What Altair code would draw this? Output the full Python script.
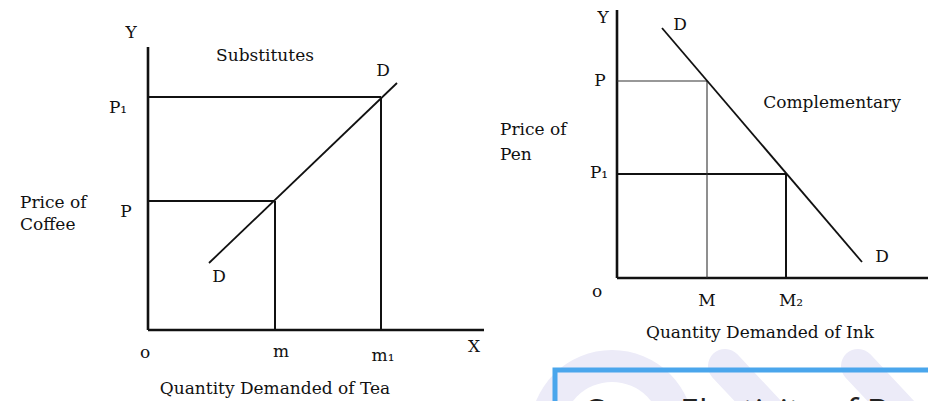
import altair as alt
import pandas as pd

# ---------------- data (diagram coordinates, canvas units) ----------------
# Left panel: Substitutes (price of coffee vs quantity of tea)
sub_origin = [148, 330]
sub_x_end = 484
sub_y_top = 47
sub_q = [275, 381]          # m, m1
sub_p = [201, 97]           # P, P1
sub_curve_x = [209, 397]
sub_curve_y = [263, 83]

# Right panel: Complementary (price of pen vs quantity of ink)
comp_origin = [617, 278]
comp_x_end = 930
comp_y_top = 10
comp_q = [707, 786]         # M, M2
comp_p = [81, 174]          # P, P1
comp_curve_x = [662, 862]
comp_curve_y = [28, 262]

# text labels
lab_text = ["Y", "Substitutes", "D", "P\u2081", "P", "D", "o", "m", "m\u2081", "X",
            "Quantity Demanded of Tea",
            "Y", "D", "P", "Complementary", "P\u2081", "D", "o", "M", "M\u2082",
            "Quantity Demanded of Ink"]
lab_x = [131, 265, 383, 118, 126, 219, 145, 281, 383, 474, 275,
         603, 680, 600, 832, 599, 882, 597, 707, 791, 760]
lab_y = [33, 56, 71, 108, 212, 277, 353, 352, 356, 347, 389,
         18, 25, 81, 103, 173, 257, 292, 301, 301, 333]

left_text = ["Price of", "Coffee", "Price of", "Pen"]
left_x = [20, 20, 500, 500]
left_y = [203, 225, 130, 155]

# watermark / decoration
ring_center = [612, 432]
band_x = [[725, 800], [858, 933]]
band_y = [[366, 446], [366, 446]]
box_corner = [555, 370]
box_text = "Cross Elasticity of Demand"

# ---------------- build tables ----------------
X = alt.X("x:Q", scale=alt.Scale(domain=[8, 928]), axis=None)
Y = alt.Y("y:Q", scale=alt.Scale(domain=[408, 8]), axis=None)
X2 = alt.X2("x2:Q")
Y2 = alt.Y2("y2:Q")

axes_df = pd.DataFrame({
    "x": [sub_origin[0], sub_origin[0], comp_origin[0], comp_origin[0]],
    "y": [sub_y_top, sub_origin[1], comp_y_top, comp_origin[1]],
    "x2": [sub_origin[0], sub_x_end, comp_origin[0], comp_x_end],
    "y2": [sub_origin[1], sub_origin[1], comp_origin[1], comp_origin[1]],
})

thick_df = pd.DataFrame({
    "x": [sub_origin[0], sub_q[0], sub_origin[0], sub_q[1], comp_origin[0], comp_q[1]],
    "y": [sub_p[0], sub_p[0], sub_p[1], sub_p[1], comp_p[1], comp_p[1]],
    "x2": [sub_q[0], sub_q[0], sub_q[1], sub_q[1], comp_q[1], comp_q[1]],
    "y2": [sub_p[0], sub_origin[1], sub_p[1], sub_origin[1], comp_p[1], comp_origin[1]],
})

thin_df = pd.DataFrame({
    "x": [comp_origin[0], comp_q[0]],
    "y": [comp_p[0], comp_p[0]],
    "x2": [comp_q[0], comp_q[0]],
    "y2": [comp_p[0], comp_origin[1]],
})

curve_df = pd.DataFrame({
    "x": [sub_curve_x[0], comp_curve_x[0]],
    "y": [sub_curve_y[0], comp_curve_y[0]],
    "x2": [sub_curve_x[1], comp_curve_x[1]],
    "y2": [sub_curve_y[1], comp_curve_y[1]],
})

lab_df = pd.DataFrame({"x": lab_x, "y": lab_y, "t": lab_text})
left_df = pd.DataFrame({"x": left_x, "y": left_y, "t": left_text})

band_df = pd.DataFrame({
    "x": [band_x[0][0], band_x[1][0]],
    "y": [band_y[0][0], band_y[1][0]],
    "x2": [band_x[0][1], band_x[1][1]],
    "y2": [band_y[0][1], band_y[1][1]],
})
ring_df = pd.DataFrame({"x": [ring_center[0]], "y": [ring_center[1]]})
box_df = pd.DataFrame({"x": [box_corner[0]], "y": [box_corner[1]], "x2": [990], "y2": [470]})
box_text_df = pd.DataFrame({"x": [583], "y": [424], "t": [box_text]})

WM = "#ecebf8"
INK = "#111111"
SERIF = "DejaVu Serif"

ring = alt.Chart(ring_df).mark_arc(color=WM, radius=82, radius2=50, theta=0, theta2=6.2832).encode(x=X, y=Y)
bands = alt.Chart(band_df).mark_rule(color=WM, strokeWidth=34, strokeCap="round").encode(x=X, y=Y, x2=X2, y2=Y2)
box = alt.Chart(box_df).mark_rect(fillOpacity=0, stroke="#4aa6ec", strokeWidth=5).encode(x=X, y=Y, x2=X2, y2=Y2)
box_txt = alt.Chart(box_text_df).mark_text(font="Open Sans", fontSize=34, align="left",
                                            baseline="alphabetic", color="#222222").encode(x=X, y=Y, text="t:N")

axes = alt.Chart(axes_df).mark_rule(color=INK, strokeWidth=2.6).encode(x=X, y=Y, x2=X2, y2=Y2)
thick = alt.Chart(thick_df).mark_rule(color=INK, strokeWidth=2.0).encode(x=X, y=Y, x2=X2, y2=Y2)
thin = alt.Chart(thin_df).mark_rule(color="#333333", strokeWidth=1.1).encode(x=X, y=Y, x2=X2, y2=Y2)
curves = alt.Chart(curve_df).mark_rule(color=INK, strokeWidth=1.8).encode(x=X, y=Y, x2=X2, y2=Y2)

labels = alt.Chart(lab_df).mark_text(font=SERIF, fontSize=17, align="center", baseline="middle",
                                     color=INK).encode(x=X, y=Y, text="t:N")
left_labels = alt.Chart(left_df).mark_text(font=SERIF, fontSize=17, align="left", baseline="middle",
                                           color=INK).encode(x=X, y=Y, text="t:N")

chart = alt.layer(ring, bands, box, box_txt, axes, thick, thin, curves, labels, left_labels).properties(
    width=920, height=400, autosize=alt.AutoSizeParams(type="none"), padding=0
).configure_view(stroke=None)

chart.save("out.html", embed_options={"renderer": "svg", "actions": False})
